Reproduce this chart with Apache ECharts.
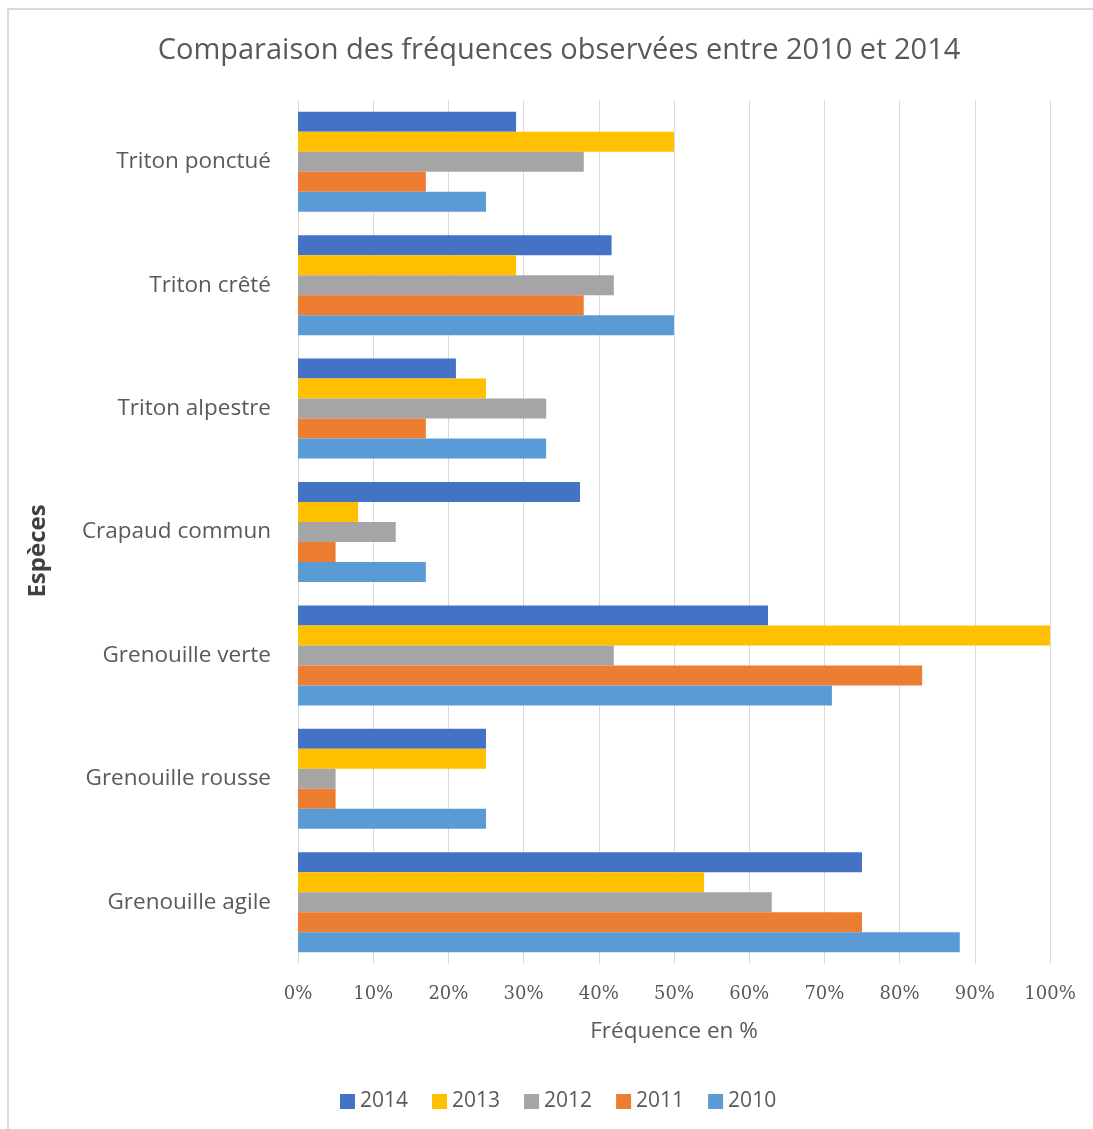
<!DOCTYPE html>
<html>
<head>
<meta charset="utf-8">
<script src="https://cdn.jsdelivr.net/npm/echarts@6/dist/echarts.min.js"></script>
<style>
  html, body { margin: 0; padding: 0; background: #fff; }
  #chart { width: 1093px; height: 1129px; }
</style>
</head>
<body>
<div id="chart"></div>
<script>
// Species, top to bottom
const especes = ['Triton ponctué', 'Triton crêté', 'Triton alpestre', 'Crapaud commun',
                 'Grenouille verte', 'Grenouille rousse', 'Grenouille agile'];
// Observed frequency (%) per year, same order as especes
const annees = ['2014', '2013', '2012', '2011', '2010'];
const freq2014 = [29, 41.7, 21, 37.5, 62.5, 25, 75];
const freq2013 = [50, 29, 25, 8, 100, 25, 54];
const freq2012 = [38, 42, 33, 13, 42, 5, 63];
const freq2011 = [17, 38, 17, 5, 83, 5, 75];
const freq2010 = [25, 50, 33, 17, 71, 25, 88];
const couleurs = ['#4472C4', '#FFC000', '#A5A5A5', '#ED7D31', '#5B9BD5'];
const valeurs = [freq2014, freq2013, freq2012, freq2011, freq2010];

const sansFont = '"Open Sans", "Noto Sans", sans-serif';
const chart = echarts.init(document.getElementById('chart'));

chart.setOption({
  animation: false,
  backgroundColor: '#ffffff',
  title: {
    text: 'Comparaison des fréquences observées entre 2010 et 2014',
    left: 554, top: 31, textAlign: 'center',
    textStyle: { fontFamily: sansFont, fontSize: 29, fontWeight: 'normal', color: '#595959' }
  },
  legend: {
    data: annees,
    bottom: 12, left: 335,
    itemWidth: 15, itemHeight: 15, itemGap: 24,
    icon: 'rect',
    textStyle: { fontFamily: sansFont, fontSize: 21, color: '#595959' }
  },
  grid: { left: 298, right: 43, top: 100, bottom: 165 },
  xAxis: {
    type: 'value', min: 0, max: 100, interval: 10,
    name: 'Fréquence en %', nameLocation: 'middle', nameGap: 56,
    nameTextStyle: { fontFamily: sansFont, fontSize: 22.5, color: '#595959' },
    axisLabel: { formatter: '{value}%', fontFamily: '"DejaVu Serif", serif', fontSize: 18, color: '#595959', margin: 21 },
    axisLine: { show: false }, axisTick: { show: false },
    splitLine: { show: true, lineStyle: { color: '#D9D9D9', width: 1 } }
  },
  yAxis: {
    type: 'category', data: especes, inverse: true,
    axisLabel: { fontFamily: sansFont, fontSize: 22.5, color: '#595959', margin: 27 },
    axisLine: { show: false }, axisTick: { show: false }
  },
  series: annees.map((a, i) => ({
    name: a, type: 'bar', data: valeurs[i],
    itemStyle: { color: couleurs[i] },
    barGap: '0%', barCategoryGap: '19%'
  })),
  graphic: [
    { type: 'polyline', shape: { points: [[8, 1129], [8, 9], [1093, 9]] },
      style: { stroke: '#D9D9D9', lineWidth: 2, fill: null }, silent: true },
    // vertical axis title
    { type: 'text', x: 38, y: 551, rotation: Math.PI / 2, silent: true,
      style: { text: 'Espèces', fontFamily: sansFont, fontSize: 24, fontWeight: 'bold',
               fill: '#404040', align: 'center', verticalAlign: 'middle' } }
  ]
});
</script>
</body>
</html>
